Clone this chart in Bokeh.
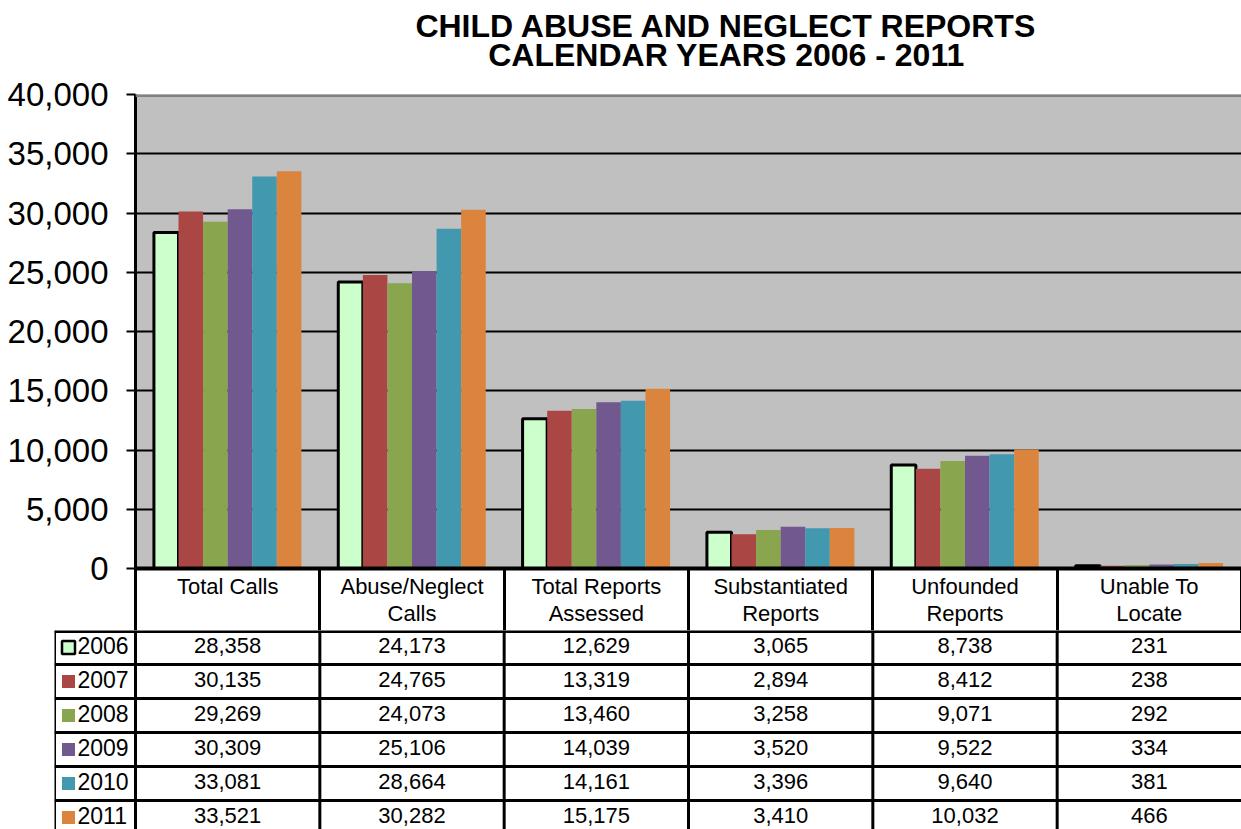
from bokeh.plotting import figure
from bokeh.models import Range1d, FixedTicker, NumeralTickFormatter, Span, ColumnDataSource
from bokeh.transform import dodge
from bokeh.layouts import column
from bokeh.embed import file_html
from bokeh.resources import INLINE
from bokeh.core.properties import value

# ---- data ----
title_lines = ["CHILD ABUSE AND NEGLECT REPORTS", "CALENDAR YEARS 2006 - 2011"]
categories = ["Total Calls", "Abuse/Neglect\nCalls", "Total Reports\nAssessed",
              "Substantiated\nReports", "Unfounded\nReports", "Unable To\nLocate"]
years = ["2006", "2007", "2008", "2009", "2010", "2011"]
v2006 = [28358, 24173, 12629, 3065, 8738, 231]
v2007 = [30135, 24765, 13319, 2894, 8412, 238]
v2008 = [29269, 24073, 13460, 3258, 9071, 292]
v2009 = [30309, 25106, 14039, 3520, 9522, 334]
v2010 = [33081, 28664, 14161, 3396, 9640, 381]
v2011 = [33521, 30282, 15175, 3410, 10032, 466]
y_ticks = [0, 5000, 10000, 15000, 20000, 25000, 30000, 35000, 40000]

series = [v2006, v2007, v2008, v2009, v2010, v2011]
colors = ["#CCFFCC", "#AA4643", "#89A54E", "#71588F", "#4198AF", "#DB843D"]
FONT = "Liberation Sans"
W = 1241
n = len(categories)
centers = [i + 0.5 for i in range(n)]

# ---- title ----
TT = 72
tf = figure(width=W, height=TT, x_range=Range1d(0, W), y_range=Range1d(0, TT),
            toolbar_location=None, output_backend="svg",
            x_axis_location=None, y_axis_location=None,
            min_border_left=0, min_border_right=0, min_border_top=0, min_border_bottom=0)
tf.frame_align = False
tf.outline_line_color = None
tf.xgrid.visible = False
tf.ygrid.visible = False
tf.text(x=[726, 726], y=[TT - 25, TT - 54], text=title_lines, text_font=value(FONT),
        text_font_size="32px", text_font_style="bold", text_align="center",
        text_baseline="middle", text_color="black")

# ---- chart ----
p = figure(width=W, height=558, x_range=Range1d(0, n), y_range=Range1d(0, 40000),
           toolbar_location=None, output_backend="svg",
           min_border_left=135, min_border_right=0, min_border_top=22, min_border_bottom=62)
p.frame_align = False
p.background_fill_color = "#C0C0C0"
p.border_fill_color = "white"
p.outline_line_color = None
p.xgrid.visible = False
p.ygrid.ticker = FixedTicker(ticks=y_ticks[1:-1])
p.ygrid.grid_line_color = "black"
p.ygrid.grid_line_width = 2

ax = p.yaxis[0]
ax.ticker = FixedTicker(ticks=y_ticks)
ax.formatter = NumeralTickFormatter(format="0,0")
ax.major_label_text_font = FONT
ax.major_label_text_font_size = "33px"
ax.major_label_text_color = "black"
ax.axis_line_width = 3
ax.axis_line_color = "black"
ax.major_tick_line_width = 2
ax.major_tick_line_color = "black"
ax.major_tick_out = 9
ax.major_tick_in = 0
ax.minor_tick_out = 0
ax.minor_tick_in = 0
ax.major_label_standoff = 18

xa = p.xaxis[0]
xa.ticker = FixedTicker(ticks=centers, minor_ticks=list(range(n + 1)))
xa.major_label_overrides = {c: lab for c, lab in zip(centers, categories)}
xa.major_label_text_font = FONT
xa.major_label_text_font_size = "22px"
xa.major_label_text_color = "black"
xa.major_label_text_line_height = 1.1
xa.major_label_standoff = -57
xa.major_tick_out = 0
xa.major_tick_in = 0
xa.minor_tick_out = 62
xa.minor_tick_in = 0
xa.minor_tick_line_width = 3
xa.minor_tick_line_color = "black"
xa.axis_line_width = 4
xa.axis_line_color = "black"

p.add_layout(Span(location=40000, dimension="width", line_color="#808080", line_width=5))

bw = 1 / 7.5
for k, (yr, vals, col) in enumerate(zip(years, series, colors)):
    src = ColumnDataSource(dict(x=centers, top=vals))
    xx = dodge("x", (k - 2.5) * bw, range=p.x_range)
    if yr == "2006":
        p.vbar(x=xx, top="top", width=bw, source=src, fill_color=col,
               line_color="black", line_width=3)
    else:
        p.vbar(x=xx, top="top", width=bw, source=src, fill_color=col, line_color=None)

# ---- data table ----
TH = 199
ROW = 34
UNIT = (W - 135) / n
L = 81 / UNIT
t = figure(width=W, height=TH, x_range=Range1d(-L, n), y_range=Range1d(-TH, 0),
           toolbar_location=None, output_backend="svg",
           x_axis_location=None, y_axis_location=None,
           min_border_left=54, min_border_right=0, min_border_top=0, min_border_bottom=0)
t.frame_align = False
t.outline_line_color = None
t.xgrid.visible = False
t.ygrid.visible = False

xs0, ys0, xs1, ys1 = [], [], [], []
for i in range(n):
    xs0.append(i); ys0.append(0); xs1.append(i); ys1.append(-TH)
xs0.append(-L); ys0.append(0); xs1.append(-L); ys1.append(-TH)
for r in range(1, len(years) + 1):
    yy = -r * ROW
    xs0.append(-L); ys0.append(yy); xs1.append(n); ys1.append(yy)
t.segment(x0=xs0, y0=ys0, x1=xs1, y1=ys1, line_color="black", line_width=3)
t.segment(x0=[-L], y0=[0], x1=[n], y1=[0], line_color="black", line_width=5)

for r, (yr, vals, col) in enumerate(zip(years, series, colors)):
    yc = -r * ROW - ROW / 2
    t.text(x=centers, y=[yc + 2.5] * n, text=[f"{v:,}" for v in vals],
           text_font=value(FONT), text_font_size="22px", text_align="center",
           text_baseline="middle", text_color="black")
    t.rect(x=[-L + 14 / UNIT], y=[yc], width=13, height=13,
           width_units="screen", height_units="screen", fill_color=col,
           line_color="black" if yr == "2006" else None, line_width=2.5)
    t.text(x=[-L], y=[yc + 2.5], x_offset=23, text=[yr], text_font=value(FONT),
           text_font_size="23px", text_align="left", text_baseline="middle",
           text_color="black")

layout = column(tf, p, t, spacing=0)
open("out.html", "w").write(file_html(layout, INLINE))
